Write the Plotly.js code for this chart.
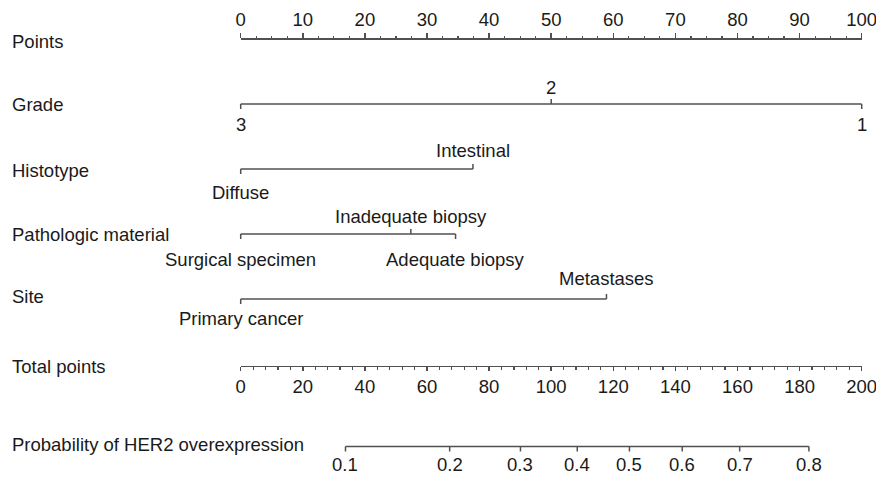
<!DOCTYPE html>
<html>
<head>
<meta charset="utf-8">
<script src="https://cdn.plot.ly/plotly-3.0.1.min.js"></script>
<style>html,body{margin:0;padding:0;background:#fff;}#chart{width:876px;height:479px;}</style>
</head>
<body>
<div id="chart"></div>
<script>
// ---------------- data ----------------
const rowNames = ['Points', 'Grade', 'Histotype', 'Pathologic material', 'Site', 'Total points', 'Probability of HER2 overexpression'];

const gradeLevels = ['3', '2', '1'];
const gradePoints = [0, 50, 100];
const gradeSide = ['below', 'above', 'below'];

const histoLevels = ['Diffuse', 'Intestinal'];
const histoPoints = [0, 37.4];
const histoSide = ['below', 'above'];

const pathLevels = ['Surgical specimen', 'Inadequate biopsy', 'Adequate biopsy'];
const pathPoints = [0, 27.4, 34.6];
const pathSide = ['below', 'above', 'below'];

const siteLevels = ['Primary cancer', 'Metastases'];
const sitePoints = [0, 58.9];
const siteSide = ['below', 'above'];

const pointsRange = [0, 100];
const totalRange = [0, 200];

const probLabels = ['0.1', '0.2', '0.3', '0.4', '0.5', '0.6', '0.7', '0.8'];
const probTotalPoints = [33.75, 67.3, 90.1, 108.4, 125.2, 142.2, 160.7, 183.0];

// ---------------- layout constants (pixels) ----------------
const W = 876, H = 479;
const X0 = 240.7, X100 = 861.7;          // pixel x of 0 and max on the point scales
const S = (X100 - X0) / 100;              // px per point
const rowLineY = [38, 104, 169, 234, 299, 365.5, 446.5];
const rowNameY = [42, 104, 170, 234, 296, 366, 444];
const nameX = 10;
const FONT = 'Liberation Sans, Arial, Helvetica, sans-serif';
const FS = 18.5;
const TXT = '#1a1a1a';
const LINE = '#505050';
const TICK = 5;

const variables = [
  {levels: gradeLevels, pts: gradePoints, side: gradeSide, row: 1, up: 17, down: 20},
  {levels: histoLevels, pts: histoPoints, side: histoSide, row: 2, up: 19, down: 23},
  {levels: pathLevels, pts: pathPoints, side: pathSide, row: 3, up: 18, down: 25},
  {levels: siteLevels, pts: sitePoints, side: siteSide, row: 4, up: 21, down: 19}
];

const traces = [];
const annotations = [];

variables.forEach(v => {
  const y = rowLineY[v.row];
  const xs = [Math.min(...v.pts), Math.max(...v.pts)];
  const ys = [y, y];
  v.pts.forEach((p, i) => {
    const above = v.side[i] === 'above';
    xs.push(null, p, p);
    ys.push(null, y, y + (above ? -TICK : TICK));
    annotations.push({
      x: p, xref: 'x', y: y, yref: 'y',
      yshift: above ? v.up : -v.down,
      text: v.levels[i], showarrow: false,
      xanchor: 'center', yanchor: 'middle',
      font: {family: FONT, size: FS, color: TXT}
    });
  });
  traces.push({
    type: 'scatter', mode: 'lines', x: xs, y: ys, xaxis: 'x', yaxis: 'y',
    line: {color: LINE, width: 1.5}, hoverinfo: 'skip', showlegend: false
  });
});

// probability scale, drawn on the total-points axis scale
(function () {
  const y = rowLineY[6];
  const xs = [probTotalPoints[0], probTotalPoints[probTotalPoints.length - 1]];
  const ys = [y, y];
  probTotalPoints.forEach((tp, i) => {
    xs.push(null, tp, tp);
    ys.push(null, y, y + TICK);
    annotations.push({
      x: tp, xref: 'x3', y: y, yref: 'y', yshift: -18,
      text: probLabels[i], showarrow: false, xanchor: 'center', yanchor: 'middle',
      font: {family: FONT, size: FS, color: TXT}
    });
  });
  traces.push({
    type: 'scatter', mode: 'lines', x: xs, y: ys, xaxis: 'x3', yaxis: 'y',
    line: {color: LINE, width: 1.5}, hoverinfo: 'skip', showlegend: false
  });
})();

// invisible anchor trace so the Points axis subplot exists
traces.push({type: 'scatter', mode: 'markers', x: [50], y: [0], xaxis: 'x2', yaxis: 'y',
  marker: {opacity: 0}, hoverinfo: 'skip', showlegend: false});

// row names
rowNames.forEach((n, i) => {
  annotations.push({
    x: nameX / W, xref: 'paper', y: 1 - rowNameY[i] / H, yref: 'paper',
    text: n, showarrow: false, xanchor: 'left', yanchor: 'middle',
    font: {family: FONT, size: FS, color: TXT}
  });
});

const scaleAxis = {
  anchor: 'free', domain: [X0 / W, X100 / W],
  showline: true, linecolor: LINE, linewidth: 1.5,
  ticks: 'outside', tickcolor: LINE, tickwidth: 1.5,
  showgrid: false, zeroline: false, fixedrange: true,
  ticklabeloverflow: 'allow',
  tickfont: {family: FONT, size: FS, color: TXT}
};

const layout = {
  width: W, height: H,
  margin: {l: 0, r: 0, t: 0, b: 0, pad: 0},
  paper_bgcolor: '#ffffff', plot_bgcolor: 'rgba(0,0,0,0)',
  showlegend: false,
  xaxis: {domain: [0, 1], range: [-X0 / S, (W - X0) / S], visible: false, fixedrange: true},
  yaxis: {domain: [0, 1], range: [H, 0], visible: false, fixedrange: true},
  xaxis2: Object.assign({}, scaleAxis, {
    range: pointsRange, position: 1 - rowLineY[0] / H, side: 'top',
    tick0: 0, dtick: 10, ticklen: 5,
    minor: {dtick: 2.5, ticklen: 2.5, tickwidth: 1.2, tickcolor: LINE, ticks: 'outside', showgrid: false}
  }),
  xaxis3: Object.assign({}, scaleAxis, {
    range: totalRange, position: 1 - rowLineY[5] / H, side: 'bottom',
    tick0: 0, dtick: 20, ticklen: 4,
    minor: {dtick: 4, ticklen: 3, tickwidth: 1.2, tickcolor: LINE, ticks: 'outside', showgrid: false}
  }),
  annotations: annotations
};

Plotly.newPlot('chart', traces, layout, {staticPlot: true, displayModeBar: false});
</script>
</body>
</html>
